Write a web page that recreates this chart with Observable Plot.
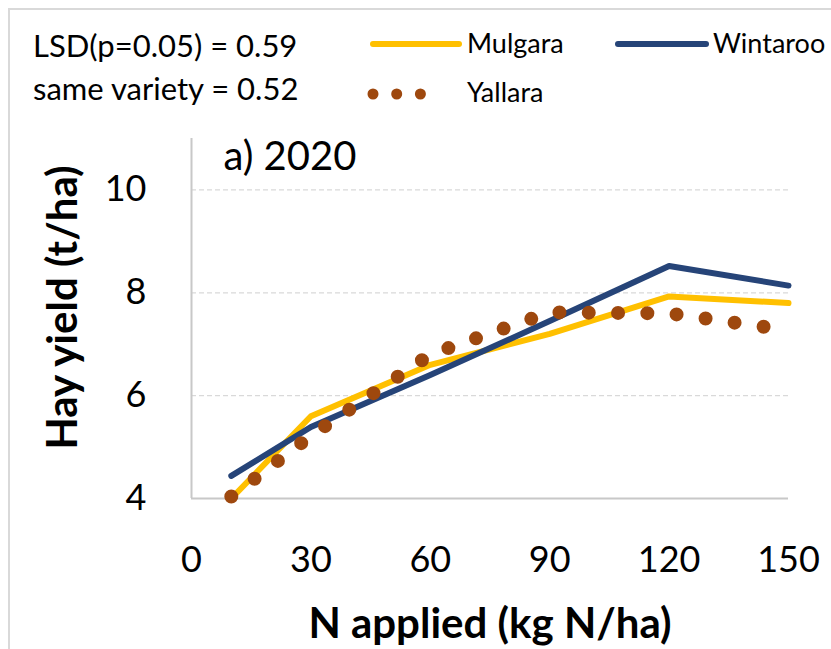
<!DOCTYPE html>
<html>
<head>
<meta charset="utf-8">
<script src="https://cdn.jsdelivr.net/npm/d3@7"></script>
<script src="https://cdn.jsdelivr.net/npm/@observablehq/plot@0.6"></script>
<style>
  body { margin: 0; background: white; }
  #wrap { position: relative; width: 831px; height: 649px; overflow: hidden; background: white; font-family: Lato, "Liberation Sans", sans-serif; }
  #legend { position: absolute; left: 0; top: 0; }
  #chart { position: absolute; left: 0; top: 120px; }
  #frame { position: absolute; left: 8px; top: 8px; width: 900px; height: 700px; border: 2px solid #d9d9d9; pointer-events: none; }
</style>
</head>
<body>
<div id="wrap">
  <div id="legend"></div>
  <div id="chart"></div>
  <div id="frame"></div>
</div>
<script>
// ---- data ----
const nApplied = [10, 30, 60, 90, 120, 150];
const mulgara  = [4.00, 5.60, 6.60, 7.20, 7.93, 7.80];
const wintaroo = [4.44, 5.39, 6.40, 7.45, 8.52, 8.14];
const yallara  = [4.04, 5.22, 6.80, 7.62, 7.60, 7.27];
const varieties = ["Mulgara", "Wintaroo", "Yallara"];
const seriesValues = [mulgara, wintaroo, yallara];
const colors = ["#FFC000", "#264478", "#9E480E"];
const xTicks = [0, 30, 60, 90, 120, 150];
const yTicks = [4, 6, 8, 10];
const gridValues = [6, 8, 10];
const lsdLines = ["LSD(p=0.05) = 0.59", "same variety = 0.52"];
const panelLabel = "a) 2020";
const xLabel = "N applied (kg N/ha)";
const yLabel = "Hay yield (t/ha)";

const rows = varieties.flatMap((v, i) => nApplied.map((n, j) => ({variety: v, n, y: seriesValues[i][j]})));
const byVar = v => rows.filter(d => d.variety === v);

// ---- legend ----
const font = 'Lato, "Liberation Sans", sans-serif';
const leg = d3.create("svg").attr("width", 831).attr("height", 120).style("display", "block");
leg.selectAll("text.lsd").data(lsdLines).join("text")
  .attr("x", 33).attr("y", (d, i) => 57 + i * 43)
  .attr("font-family", font).attr("font-size", 31).attr("fill", "#000").text(d => d);
// Mulgara
leg.append("line").attr("x1", 373).attr("x2", 459).attr("y1", 44).attr("y2", 44)
  .attr("stroke", colors[0]).attr("stroke-width", 6).attr("stroke-linecap", "round");
leg.append("text").attr("x", 467).attr("y", 53).attr("font-family", font).attr("font-size", 27).text(varieties[0]);
// Wintaroo
leg.append("line").attr("x1", 618).attr("x2", 706).attr("y1", 44).attr("y2", 44)
  .attr("stroke", colors[1]).attr("stroke-width", 6).attr("stroke-linecap", "round");
leg.append("text").attr("x", 713).attr("y", 53).attr("font-family", font).attr("font-size", 27).text(varieties[1]);
// Yallara
leg.append("line").attr("x1", 373).attr("x2", 444).attr("y1", 94).attr("y2", 94)
  .attr("stroke", colors[2]).attr("stroke-width", 11).attr("stroke-linecap", "round")
  .attr("stroke-dasharray", "0 23.7");
leg.append("text").attr("x", 467).attr("y", 102).attr("font-family", font).attr("font-size", 27).text(varieties[2]);
document.getElementById("legend").appendChild(leg.node());

// ---- chart ----
const chart = Plot.plot({
  width: 831,
  height: 529,
  marginTop: 18,
  marginLeft: 191,
  marginRight: 43,
  marginBottom: 151,
  style: {fontFamily: font, fontSize: "36px", color: "#000", background: "transparent"},
  x: {domain: [0, 150], ticks: xTicks, tickSize: 0, tickPadding: 48, tickFormat: d => String(d), label: null},
  y: {domain: [4, 11], ticks: yTicks, tickSize: 0, tickPadding: 45, tickFormat: d => String(d), label: null},
  marks: [
    Plot.ruleY(gridValues, {stroke: "#d9d9d9", strokeWidth: 1.3, strokeDasharray: "5 3"}),
    Plot.ruleX([0], {stroke: "#c8c8c8", strokeWidth: 2}),
    Plot.ruleY([4], {stroke: "#c8c8c8", strokeWidth: 2}),
    Plot.line(byVar("Mulgara"), {x: "n", y: "y", stroke: colors[0], strokeWidth: 6, strokeLinecap: "round", strokeLinejoin: "round"}),
    Plot.line(byVar("Wintaroo"), {x: "n", y: "y", stroke: colors[1], strokeWidth: 6, strokeLinecap: "round", strokeLinejoin: "round"}),
    Plot.line(byVar("Yallara"), {x: "n", y: "y", stroke: colors[2], strokeWidth: 14, strokeLinecap: "round", strokeDasharray: "0 29.3"}),
    Plot.text([panelLabel], {text: d => d, frameAnchor: "top-left", textAnchor: "start", lineAnchor: "bottom", dx: 32, dy: 31, fontSize: 40}),
    Plot.text([xLabel], {text: d => d, frameAnchor: "bottom", textAnchor: "middle", lineAnchor: "bottom", dy: 139, fontSize: 42, fontWeight: "bold"}),
    Plot.text([yLabel], {text: d => d, frameAnchor: "left", textAnchor: "middle", lineAnchor: "bottom", rotate: -90, dx: -115, dy: -11, fontSize: 42, fontWeight: "bold"})
  ]
});
document.getElementById("chart").appendChild(chart);
</script>
</body>
</html>
